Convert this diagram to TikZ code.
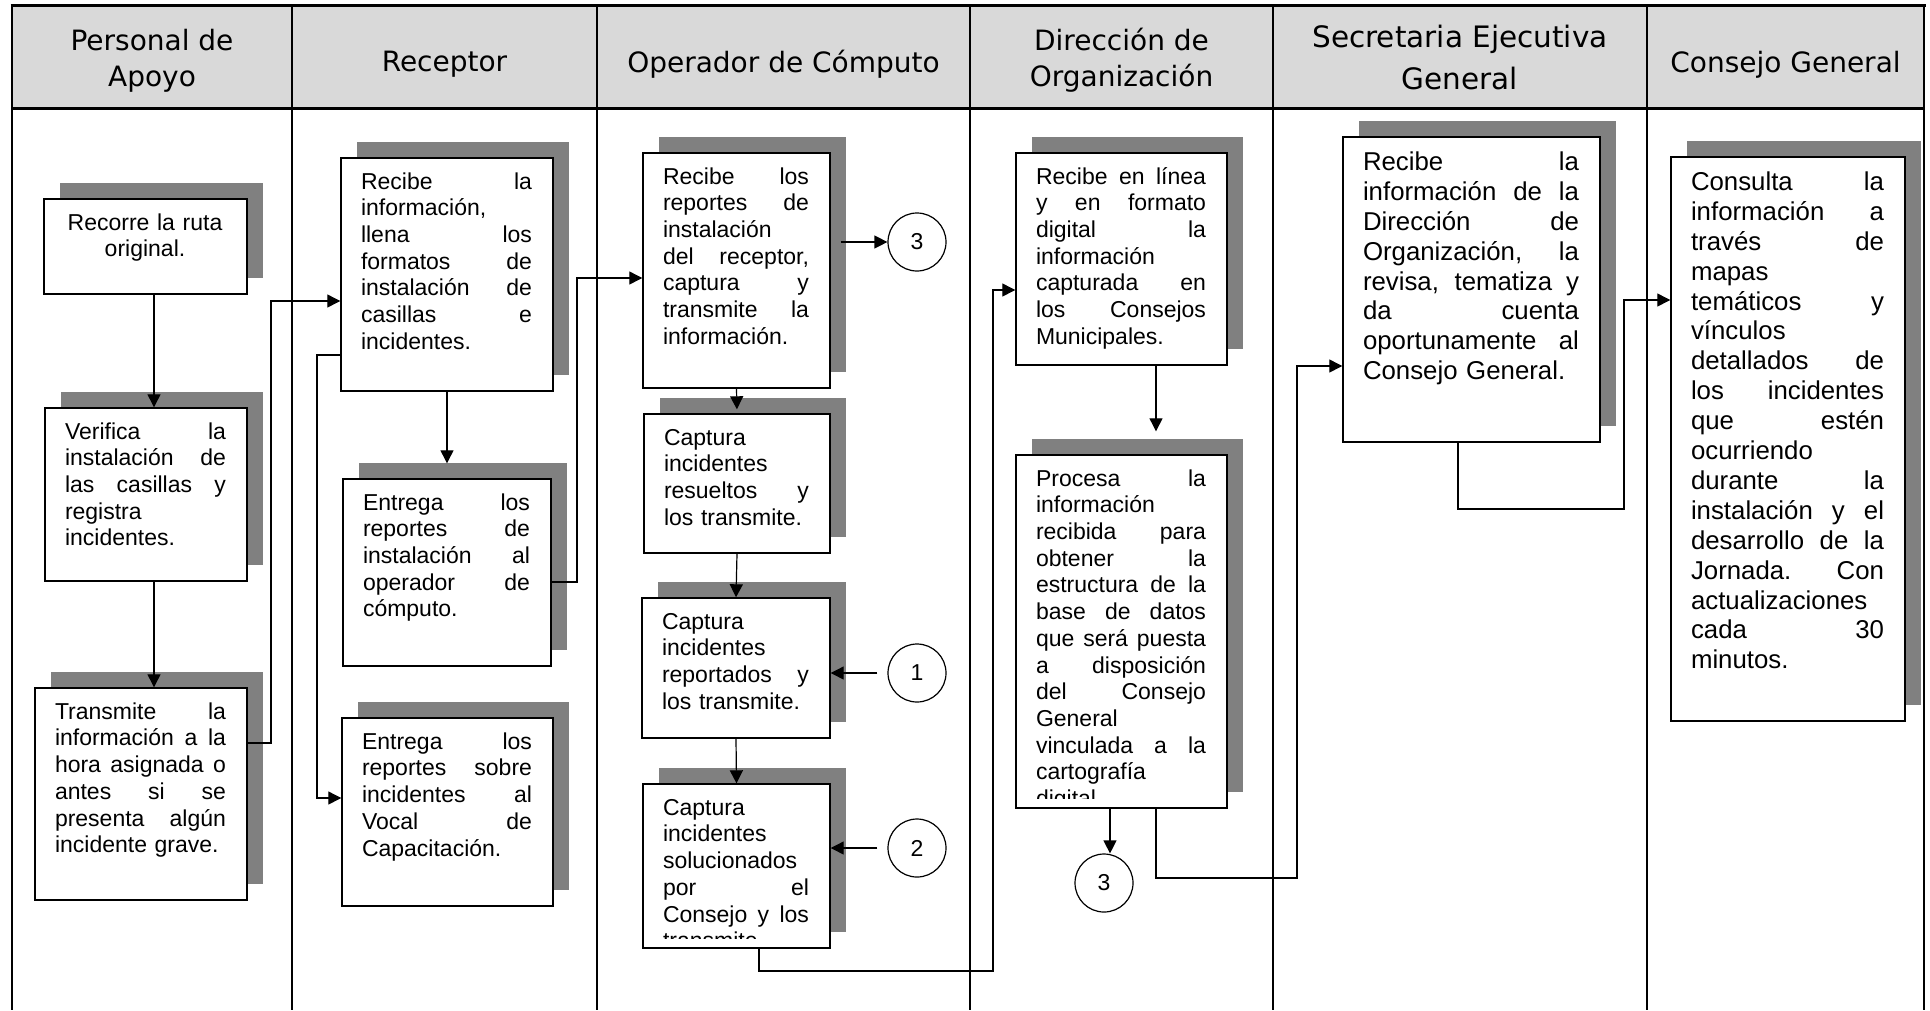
\documentclass[tikz,border=0pt]{standalone}
\usepackage{fontspec}
\setmainfont{Liberation Sans}
\newfontfamily\hdrfont{DejaVu Sans}
\usetikzlibrary{arrows.meta,shadows}
\definecolor{hdrgray}{RGB}{217,217,217}
\definecolor{shgray}{RGB}{128,128,128}
\def\fbtw{100}
\newcommand{\jl}[1]{\leavevmode\hbox to \fbtw pt{\spaceskip=0.278em plus 1fil\relax\xspaceskip=0.278em plus 1fil\relax #1}\\}
\tikzset{
  flowbox/.style={draw=black, line width=1.4pt, fill=white, rectangle, inner sep=0pt,
     drop shadow={shadow xshift=16pt, shadow yshift=16pt, fill=shgray, opacity=1}},
  bodytxt/.style={anchor=north west, inner sep=0pt, align=left, font=\fontsize{23}{26.7}\selectfont},
  bigtxt/.style={bodytxt, font=\fontsize{25.8}{29.9}\selectfont},
  ctrtxt/.style={bodytxt, align=center},
  hdr/.style={font=\hdrfont\fontsize{28}{36}\selectfont, align=center, inner sep=0pt},
  conn/.style={circle, draw, line width=1.2pt, minimum size=58pt, inner sep=0pt, font=\fontsize{23}{26}\selectfont},
  arr/.style={line width=1.2pt, -{Triangle[length=13pt,width=13pt]}},
  gridln/.style={line width=2pt},
  ruleln/.style={line width=3pt},
}
\newcommand{\fbx}[7][bodytxt]{%
  \pgfmathsetmacro\fbw{#5-#3}\pgfmathsetmacro\fbh{#6-#4}%
  \pgfmathsetmacro\fbtw{#5-#3-41}%
  \node[flowbox, minimum width=\fbw pt, minimum height=\fbh pt] (#2) at ({(#3+#5)/2},{(#4+#6)/2}) {};
  \begin{scope}
    \clip (#2.north west) rectangle ([yshift=10pt]#2.south east);
    \node[#1, text width=\fbtw pt] (#2t) at ([shift={(20.5,13)}]#2.north west) {\noindent\strut #7};
  \end{scope}
}
\begin{document}
\begin{tikzpicture}[x=1pt,y=-1pt]
\useasboundingbox (0,0) rectangle (1930,1010);
% header band
\fill[hdrgray] (12,5) rectangle (1924,108);
\foreach \gx in {12,292,597,970,1273,1647,1924} \draw[gridln] (\gx,5) -- (\gx,1010);
\draw[ruleln] (10.5,5) -- (1925.5,5);
\draw[ruleln] (12,108) -- (1924,108);
\node[hdr] (h1) at (152,60.9) {Personal de\\Apoyo};
\node[hdr, anchor=base] (h2) at (444.5,71.5) {Receptor};
\node[hdr, anchor=base] (h3) at (783.5,72) {Operador de Cómputo};
\node[hdr] (h4) at (1121.5,60.3) {Dirección de\\Organización};
\node[hdr, font=\hdrfont\fontsize{29.5}{42}\selectfont] (h5) at (1460,57) {Secretaria Ejecutiva\\General};
\node[hdr, anchor=base] (h6) at (1785.5,72) {Consejo General};

% Personal de Apoyo
\fbx[ctrtxt]{P1}{44}{199}{247}{294}{Recorre la ruta\\original.}
\fbx{P2}{45}{408}{247}{581}{\jl{Verifica la}\jl{instalación de}\jl{las casillas y}registra\\incidentes.}
\fbx{P3}{35}{688}{247}{900}{\jl{Transmite la}\jl{información a la}\jl{hora asignada o}\jl{antes si se}\jl{presenta algún}incidente grave.}

% Receptor
\fbx{R1}{341}{158}{553}{391}{\jl{Recibe la}información,\\\jl{llena los}\jl{formatos de}\jl{instalación de}\jl{casillas e}incidentes.}
\fbx{R2}{343}{479}{551}{666}{\jl{Entrega los}\jl{reportes de}\jl{instalación al}\jl{operador de}cómputo.}
\fbx{R3}{342}{718}{553}{906}{\jl{Entrega los}\jl{reportes sobre}\jl{incidentes al}\jl{Vocal de}Capacitación.}

% Operador de Computo
\fbx{A}{643}{153}{830}{388}{\jl{Recibe los}\jl{reportes de}instalación\\\jl{del receptor,}\jl{captura y}\jl{transmite la}información.}
\fbx{B}{644}{414}{830}{553}{Captura\\incidentes\\\jl{resueltos y}los transmite.}
\fbx{C}{642}{598}{830}{738}{Captura\\incidentes\\\jl{reportados y}los transmite.}
\fbx{D}{643}{784}{830}{948}{Captura\\incidentes\\solucionados\\\jl{por el}\jl{Consejo y los}transmite.}
\node[conn] (c3a) at (917,242) {3};
\node[conn] (c1) at (917,673) {1};
\node[conn] (c2) at (917,848) {2};

% Direccion de Organizacion
\fbx{E}{1016}{153}{1227}{365}{\jl{Recibe en línea}\jl{y en formato}\jl{digital la}información\\\jl{capturada en}\jl{los Consejos}Municipales.}
\fbx{F}{1016}{455}{1227}{808}{\jl{Procesa la}información\\\jl{recibida para}\jl{obtener la}\jl{estructura de la}\jl{base de datos}\jl{que será puesta}\jl{a disposición}\jl{del Consejo}General\\\jl{vinculada a la}cartografía\\digital.}
\node[conn] (c3b) at (1104,883) {3};

% Secretaria Ejecutiva General
\fbx[bigtxt]{G}{1343}{137}{1600}{442}{\jl{Recibe la}\jl{información de la}\jl{Dirección de}\jl{Organización, la}\jl{revisa, tematiza y}\jl{da cuenta}\jl{oportunamente al}Consejo General.}

% Consejo General
\fbx[bigtxt]{H}{1671}{157}{1905}{721}{\jl{Consulta la}\jl{información a}\jl{través de}mapas\\\jl{temáticos y}vínculos\\\jl{detallados de}\jl{los incidentes}\jl{que estén}ocurriendo\\\jl{durante la}\jl{instalación y el}\jl{desarrollo de la}\jl{Jornada. Con}actualizaciones\\\jl{cada 30}minutos.}

% waypoints
\coordinate (w0) at (154,0);
\coordinate (w1) at (271,743);
\coordinate (w2) at (271,301);
\coordinate (w4) at (577,582);
\coordinate (w5) at (577,278);
\coordinate (w6) at (317,355);
\coordinate (w7) at (317,798);
\coordinate (w8) at (759,971);
\coordinate (w9) at (993,971);
\coordinate (w10) at (993,290);
\coordinate (w11) at (1156,0);
\coordinate (w12) at (1156,878);
\coordinate (w13) at (1297,878);
\coordinate (w14) at (1297,366);
\coordinate (w15) at (1458,509);
\coordinate (w16) at (1624,509);
\coordinate (w17) at (1624,300);
\coordinate (w18) at (1110,0);

% connectors
\draw[arr] (P1.south -| w0) -- (P2.north -| w0);
\draw[arr] (P2.south -| w0) -- (P3.north -| w0);
\draw[arr] (P3.east |- w1) -- (w1) -- (w2) -- (R1.west |- w2);
\draw[arr, shorten >=15pt] (R1.south) -- (R2.north);
\draw[arr] (R2.east |- w4) -- (w4) -- (w5) -- (A.west |- w5);
\draw[arr] (R1.west |- w6) -- (w6) -- (w7) -- (R3.west |- w7);
\draw[arr, shorten <=10pt] (A.east |- c3a) -- (c3a);
\draw[arr, shorten >=4pt] (A.south) -- (B.north);
\draw[arr] (B.south) -- (C.north);
\draw[arr] (C.south) -- (D.north);
\draw[arr, shorten <=10pt] (c1.west) -- (C.east |- c1);
\draw[arr, shorten <=10pt] (c2.west) -- (D.east |- c2);
\draw[arr] (D.south -| w8) -- (w8) -- (w9) -- (w10) -- (E.west |- w10);
\draw[arr, shorten >=23pt] (E.south -| w11) -- (F.north -| w11);
\draw[arr] (F.south -| w18) -- (c3b.north -| w18);
\draw[arr] (F.south -| w12) -- (w12) -- (w13) -- (w14) -- (G.west |- w14);
\draw[arr] (G.south -| w15) -- (w15) -- (w16) -- (w17) -- (H.west |- w17);
\end{tikzpicture}
\end{document}
